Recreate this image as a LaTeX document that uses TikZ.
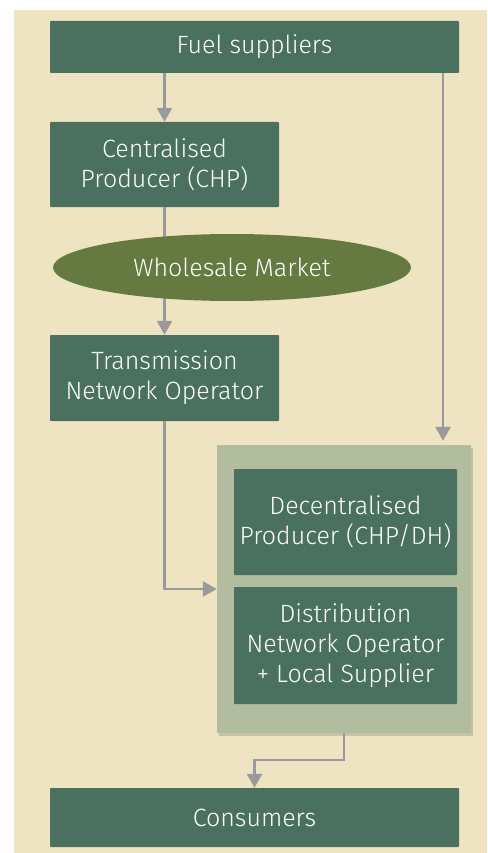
\documentclass[tikz,border=0pt]{standalone}
\usepackage{fontspec}
\setmainfont{Fira Sans}[UprightFont={* Light}]
\usepackage{xcolor}
\usetikzlibrary{arrows.meta,shapes.geometric,shadows}
\definecolor{boxgreen}{RGB}{74,112,96}
\definecolor{olive}{RGB}{101,122,64}
\definecolor{sage}{RGB}{178,189,160}
\definecolor{sand}{RGB}{239,228,193}
\definecolor{arrgray}{RGB}{154,154,156}
\newcommand{\drawbox}{\node[fill=boxgreen, text=white, align=center, inner sep=0, rounded corners=0.8pt]}
\newcommand{\drawmarket}{\node[fill=olive, text=white, ellipse, inner sep=0]}
\newcommand{\drawgroup}{\node[fill=sage, inner sep=0, drop shadow={shadow xshift=2pt, shadow yshift=-3pt, opacity=0.35}]}
\newcommand{\arrgray}{\draw[line width=2.5pt, arrgray, -{Triangle[width=15pt,length=14pt]}]}

\begin{document}
\begin{tikzpicture}[x=1pt, y=-1pt, font=\fontsize{25}{30}\selectfont]
\useasboundingbox (0,0) rectangle (487,853);
\fill[sand] (14,10) rectangle (487,853);

%chain on the left
\drawbox (fuel) [minimum width=409pt, minimum height=52pt] at (254.5,47) {Fuel suppliers};
\drawbox (chp) [minimum width=229pt, minimum height=85pt] at (164.5,164.5) {Centralised\\Producer (CHP)};
\drawbox (tno) [minimum width=229pt, minimum height=86pt] at (164.5,378) {Transmission\\Network Operator};

%local group
\drawgroup (local) [minimum width=254pt, minimum height=288pt] at (344,589) {};
\drawbox (dec) [minimum width=223pt, minimum height=106pt] at (345.5,522) {Decentralised\\Producer (CHP/DH)};
\drawbox (dno) [minimum width=223pt, minimum height=117pt] at (345.5,645.5) {Distribution\\Network Operator\\+ Local Supplier};

\drawbox (cons) [minimum width=409pt, minimum height=59pt] at (254.5,817.5) {Consumers};

\coordinate (fuelR) at (443,73);

\arrgray (fuel.south -| chp) to (chp.north);
\arrgray (chp.south) to (tno.north);
\arrgray (fuelR) to ([yshift=4pt]fuelR |- local.north);
\arrgray (tno.south) |- (local.west);
\arrgray (local.south) -- ++(0,27) -| (cons.north);

%market sits over the chp line
\drawmarket (market) [minimum width=358pt, minimum height=67pt] at (232,267.5) {Wholesale Market};
\end{tikzpicture}
\end{document}
